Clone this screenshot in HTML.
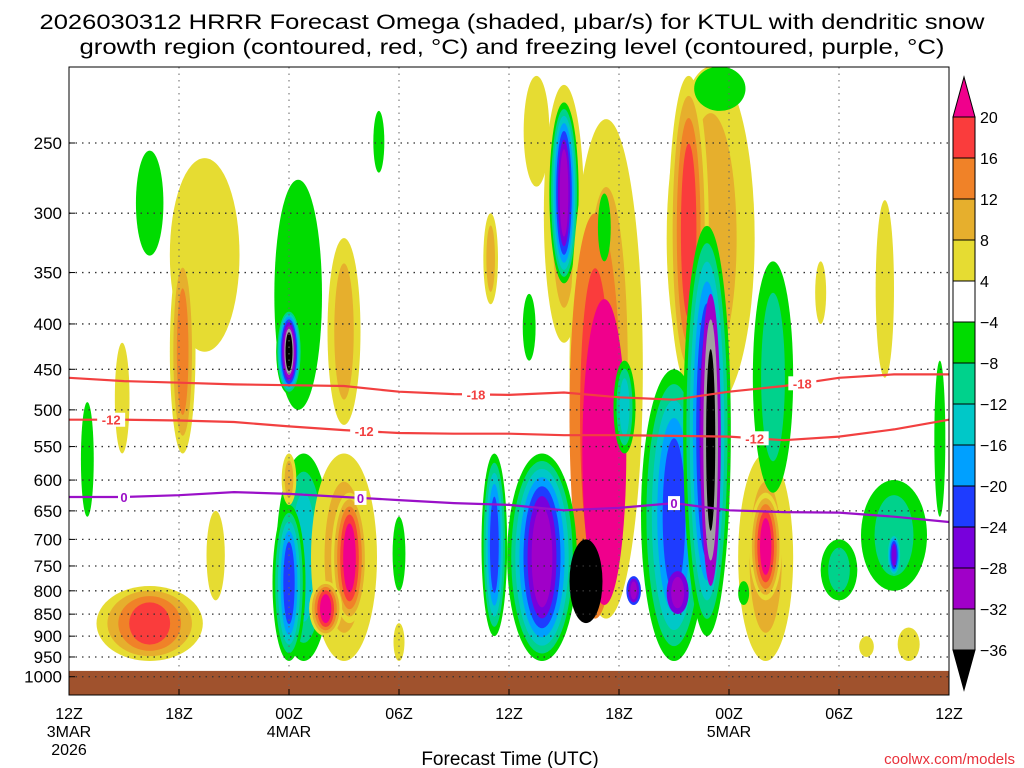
<!DOCTYPE html>
<html><head><meta charset="utf-8"><style>
html,body{margin:0;padding:0;background:#fff;}
svg{display:block;font-family:"Liberation Sans",sans-serif;}
</style></head><body>
<svg id="chart" width="1024" height="768" viewBox="0 0 1024 768" xmlns="http://www.w3.org/2000/svg">
<defs><clipPath id="plotclip"><rect x="69" y="67" width="880" height="628"/></clipPath></defs>
<text x="512" y="29" font-size="21" text-anchor="middle" textLength="945" lengthAdjust="spacingAndGlyphs">2026030312 HRRR Forecast Omega (shaded, μbar/s) for KTUL with dendritic snow</text>
<text x="512" y="54" font-size="21" text-anchor="middle" textLength="865" lengthAdjust="spacingAndGlyphs">growth region (contoured, red, °C) and freezing level (contoured, purple, °C)</text>
<g id="plot" clip-path="url(#plotclip)"></g>
<g id="overlay"></g>
<rect x="69" y="67" width="880" height="628" fill="none" stroke="#000" stroke-width="1"/>
<g id="axes"></g>
<g id="cbar"></g>
<text x="510" y="765" font-size="19" text-anchor="middle">Forecast Time (UTC)</text>
<text x="1015" y="764" font-size="15" fill="#e8303a" text-anchor="end">coolwx.com/models</text>
</svg>
<script>
// ---- data ----
const pressureTicks = [250,300,350,400,450,500,550,600,650,700,750,800,850,900,950,1000];
const timeTicks = [0,6,12,18,24,30,36,42,48];
const timeTickLabels = ["12Z","18Z","00Z","06Z","12Z","18Z","00Z","06Z","12Z"];
const dateLabels = [[0,"3MAR","2026"],[12,"4MAR",""],[36,"5MAR",""]];
const levelValues = [20,16,12,8,4,-4,-8,-12,-16,-20,-24,-28,-32,-36];
const posLevels = [4,8,12,16,20];
const posColors = ["#e6dc32","#e6af2d","#f08228","#fa3c3c","#f0008c"];
const negLevels = [-4,-8,-12,-16,-20,-24,-28,-32,-36];
const negColors = ["#00dc00","#00d28c","#00c8c8","#00a0ff","#1e3cff","#7800dc","#a000c8","#a0a0a0","#000000"];
// omega features: time(h), top p, bottom p, half-width(h), start value, peak value
const blobT  = [4.4,1.0,7.4,6.2,2.9,4.4,8.0,12.5,12.0,12.8,12.0,12.0,15.0,15.3,14.0,15.0,18.0,18.0,23.0,25.5,27.0,27.0,29.3,28.7,29.2,29.2,25.1,23.2,25.8,28.2,35.0,33.8,35.5,33.0,30.3,30.8,33.2,34.8,35.0,38.0,38.0,38.4,42.0,45.0,45.0,44.5,47.5,16.9,41.0,45.8,43.5,36.8];
const blobP1 = [255,490,260,330,420,790,650,275,385,560,640,560,560,620,780,320,660,870,300,210,215,225,235,300,375,285,370,560,560,700,205,210,205,450,440,770,760,310,370,560,620,340,700,600,690,290,440,230,340,880,900,780];
const blobP2 = [335,660,430,560,560,960,820,500,480,960,960,640,960,870,900,520,800,960,380,280,420,360,860,860,830,340,440,900,960,870,500,470,230,960,560,830,850,900,790,960,820,620,820,800,770,460,660,270,400,960,950,830];
const blobW  = [0.75,0.35,1.9,0.7,0.4,2.9,0.5,1.3,0.7,1.5,0.9,0.4,1.8,1.0,0.9,0.9,0.35,0.3,0.4,0.7,1.1,0.8,2.0,1.4,1.2,0.35,0.35,0.7,1.9,0.9,2.4,1.1,1.4,1.8,0.6,0.4,0.6,1.3,0.55,1.5,0.9,1.1,1.0,1.8,0.4,0.5,0.3,0.3,0.3,0.6,0.4,0.3];
const blobLo = [-4,-4,4,4,4,4,4,-4,-4,-4,-4,4,4,4,4,4,-4,4,4,4,4,-4,4,12,20,-4,-4,-4,-4,-36,4,4,-4,-4,-4,-20,-24,-4,-28,4,4,-4,-4,-4,-8,4,-4,-4,4,4,4,-4];
const blobHi = [-6,-5,5,13,5,17,5,-7,-37,-13,-21,10,9,22,22,9,-5,5,10,6,9,-28,9,17,21,-6,-5,-22,-30,-37,9,17,-6,-22,-14,-29,-30,-25,-37,9,21,-10,-8,-10,-26,6,-6,-6,5,5,5,-6];
// temperature contours (pressure every 3 h)
const lineTimes = [0,3,6,9,12,15,18,21,24,27,30,33,36,39,42,45,48];
const minus18P = [460,464,466,468,469,470,477,480,481,478,484,487,477,470,460,456,456];
const minus12P = [513,513,514,516,522,527,531,532,532,534,534,535,536,541,536,526,513];
const freezeP  = [627,627,624,619,622,627,632,637,640,649,645,637,649,652,653,660,669];
const minus18Labels = [22.2,40.0];
const minus12Labels = [2.3,16.1,37.4];
const freezeLabels = [3.0,15.9,33.0];

// ---- scales ----
const X0=69, PXH=880/48;
const xOf = t => X0 + t*PXH;
const yOf = p => 143 + 385*Math.log(p/250);
const NS="http://www.w3.org/2000/svg";
function mk(tag, attrs, parent){const e=document.createElementNS(NS,tag);for(const k in attrs)e.setAttribute(k,attrs[k]);parent.appendChild(e);return e;}
const plot=document.getElementById('plot'), axes=document.getElementById('axes'), overlay=document.getElementById('overlay'), cbar=document.getElementById('cbar');

// blobs
for(let i=0;i<blobT.length;i++){
  const lo=blobLo[i], hi=blobHi[i];
  const lv = lo>0 ? posLevels : negLevels, cols = lo>0 ? posColors : negColors;
  const idx=[];
  lv.forEach((v,j)=>{ if(Math.abs(v)>=Math.abs(lo) && Math.abs(v)<=Math.abs(hi)) idx.push(j); });
  const cx=xOf(blobT[i]), y1=yOf(blobP1[i]), y2=yOf(blobP2[i]);
  const cy=(y1+y2)/2, ry0=(y2-y1)/2, rx0=blobW[i]*PXH;
  const n=idx.length;
  idx.forEach((j,k)=>{
    const s=1-k/n*0.82;
    const el=mk('ellipse',{cx:cx,cy:cy,rx:Math.max(1,rx0*s),ry:Math.max(1,ry0*Math.pow(s,0.6)),fill:cols[j]},plot);
    
    
  });
}
// ground
const g=mk('rect',{x:69,y:yOf(985),width:880,height:695-yOf(985),fill:'#a0522d'},plot);



// gridlines
pressureTicks.forEach(p=>{
  const l=mk('line',{x1:69,x2:949,y1:yOf(p),y2:yOf(p),stroke:'#333','stroke-dasharray':'1.5 5','stroke-width':1.3},plot);
  
  
});
timeTicks.forEach(t=>{
  const l=mk('line',{x1:xOf(t),x2:xOf(t),y1:67,y2:695,stroke:'#666','stroke-dasharray':'1.5 5','stroke-width':1},plot);
  
  
});

// contour lines
function drawLine(arr,color,name,labels,txt){
  let d='';
  arr.forEach((p,i)=>{d+=(i?'L':'M')+xOf(lineTimes[i]).toFixed(1)+','+yOf(p).toFixed(1);});
  const path=mk('path',{d:d,fill:'none',stroke:color,'stroke-width':2.2},overlay);
  
  
  labels.forEach(t=>{
    let k=Math.min(lineTimes.length-2,Math.floor(t/3)); const f=(t-lineTimes[k])/3;
    const p=arr[k]+(arr[k+1]-arr[k])*f;
    const x=xOf(t), y=yOf(p);
    const w=txt.length*8+4;
    const r=mk('rect',{x:x-w/2,y:y-7,width:w,height:14,fill:'#fff'},overlay);
    
    
    const tx=mk('text',{x:x,y:y+5,'font-size':13,'font-weight':'bold',fill:color,'text-anchor':'middle'},overlay);
    tx.textContent=txt;
    
    
  });
}
drawLine(minus18P,'#f24040','minus18-contour',minus18Labels,'-18');
drawLine(minus12P,'#f24040','minus12-contour',minus12Labels,'-12');
drawLine(freezeP,'#9a10c8','freezing-level-contour',freezeLabels,'0');

// axes labels
pressureTicks.forEach(p=>{
  const t=mk('text',{x:62,y:yOf(p)+6,'font-size':17,'text-anchor':'end'},axes);
  t.textContent=p;
  
  
  const tk=mk('line',{x1:69,x2:75,y1:yOf(p),y2:yOf(p),stroke:'#000'},axes);
  
  
});
timeTicks.forEach((tt,i)=>{
  const t=mk('text',{x:xOf(tt),y:719,'font-size':16,'text-anchor':'middle'},axes);
  t.textContent=timeTickLabels[i];
  
  
  const tk=mk('line',{x1:xOf(tt),x2:xOf(tt),y1:689,y2:695,stroke:'#000'},axes);
  
  
});
dateLabels.forEach(d=>{
  const t=mk('text',{x:xOf(d[0]),y:737,'font-size':16,'text-anchor':'middle'},axes);
  t.textContent=d[1];
  
  
  if(d[2]){const t2=mk('text',{x:xOf(d[0]),y:755,'font-size':16,'text-anchor':'middle'},axes);
  t2.textContent=d[2];
  
  }
});

// colorbar
const cbColors=["#fa3c3c","#f08228","#e6af2d","#e6dc32","#ffffff","#00dc00","#00d28c","#00c8c8","#00a0ff","#1e3cff","#7800dc","#a000c8","#a0a0a0"];
const cbTop=117, cbStep=(650-117)/13, cbX=953, cbW=22;
const tri1=mk('polygon',{points:`${cbX},${cbTop} ${cbX+cbW},${cbTop} ${cbX+cbW/2},77`,fill:'#f0008c',stroke:'#000'},cbar);


cbColors.forEach((c,i)=>{
  const r=mk('rect',{x:cbX,y:cbTop+i*cbStep,width:cbW,height:cbStep,fill:c,stroke:'#000'},cbar);
  
  
});
const tri2=mk('polygon',{points:`${cbX},650 ${cbX+cbW},650 ${cbX+cbW/2},690`,fill:'#000',stroke:'#000'},cbar);


levelValues.forEach((v,i)=>{
  const t=mk('text',{x:980,y:cbTop+i*cbStep+6,'font-size':16},cbar);
  t.textContent=v<0?'\u2212'+Math.abs(v):String(v);
  
  
});
</script>
</body></html>
